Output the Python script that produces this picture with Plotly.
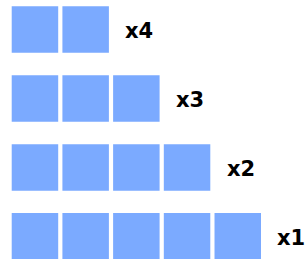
import plotly.graph_objects as go

labels = ["x4", "x3", "x2", "x1"]
counts = [2, 3, 4, 5]
row_pos = [3, 2, 1, 0]

color = "#7baaff"
sq_len = 0.917   # square length in x units (pitch = 1)
sq_thick = 0.674 # square thickness in y units (pitch = 1)

ys, bases, xs = [], [], []
for r, c in zip(row_pos, counts):
    for i in range(c):
        ys.append(r)
        bases.append(i)
        xs.append(sq_len)

fig = go.Figure()
fig.add_trace(go.Bar(
    y=ys, x=xs, base=bases, orientation="h", width=sq_thick,
    marker=dict(color=color, line=dict(width=0)),
    hoverinfo="skip", showlegend=False,
))

for lab, c, r in zip(labels, counts, row_pos):
    fig.add_annotation(
        x=c + 0.2, y=r - 0.03, text=f"<b>{lab}</b>", showarrow=False,
        xanchor="left", yanchor="middle",
        font=dict(family="DejaVu Sans, sans-serif", size=21, color="#000000"),
    )

fig.update_layout(
    width=308, height=259,
    margin=dict(l=0, r=0, t=0, b=0),
    paper_bgcolor="white", plot_bgcolor="white",
    barmode="overlay",
    xaxis=dict(range=[-0.231, 5.844], visible=False, fixedrange=True),
    yaxis=dict(range=[-0.328, 3.426], visible=False, fixedrange=True),
)

fig.write_html("out.html", config={"displayModeBar": False},
               post_script="document.body.style.margin='0';")
